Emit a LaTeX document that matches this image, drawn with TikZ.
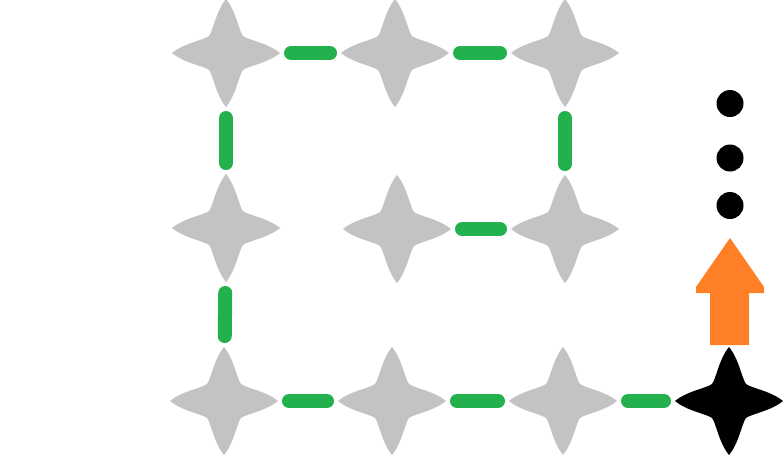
\documentclass[tikz,border=0pt]{standalone}
\usetikzlibrary{calc}
\definecolor{starGrey}{RGB}{195,195,195}
\definecolor{linkGreen}{RGB}{34,177,76}
\definecolor{arrowOrange}{RGB}{255,127,39}
\tikzset{
  sparkle/.pic={
    \fill[pic actions] (54,0) .. controls (42,10) and (22,13) .. (17,17)
      .. controls (13,22) and (10,42) .. (0,54)
      .. controls (-10,42) and (-13,22) .. (-17,17)
      .. controls (-22,13) and (-42,10) .. (-54,0)
      .. controls (-42,-10) and (-22,-13) .. (-17,-17)
      .. controls (-13,-22) and (-10,-42) .. (0,-54)
      .. controls (10,-42) and (13,-22) .. (17,-17)
      .. controls (22,-13) and (42,-10) .. (54,0) -- cycle;
  },
  hub/.style={circle, minimum size=112pt, inner sep=0pt, outer sep=9pt},
  link/.style={draw=linkGreen, line width=14pt, line cap=round},
  blackdot/.style={circle, fill=black, minimum size=27pt, inner sep=0pt}
}
\begin{document}
\begin{tikzpicture}[x=1pt,y=-1pt]
\useasboundingbox (0,0) rectangle (784,456);
% star hubs
\node[hub] (a1) at (226,53) {};
\node[hub] (a2) at (395,53) {};
\node[hub] (a3) at (565,53) {};
\node[hub] (b1) at (226,228) {};
\node[hub] (b2) at (397,229) {};
\node[hub] (b3) at (565,229) {};
\node[hub] (c1) at (224,401) {};
\node[hub] (c2) at (392,401) {};
\node[hub] (c3) at (563,401) {};
\node[hub] (c4) at (729,401) {};
\foreach \n in {a1,a2,a3,b1,b2,b3,c1,c2,c3}
  \pic[fill=starGrey] at (\n) {sparkle};
\pic[fill=black] at (c4) {sparkle};
% green links
\draw[link] (a1) -- (a2);
\draw[link] (a2) -- (a3);
\draw[link] (b2) -- (b3);
\draw[link] (c1) -- (c2);
\draw[link] (c2) -- (c3);
\draw[link] (c3) -- (c4);
\draw[link] (a1) -- (b1);
\draw[link] (a3) -- (b3);
\draw[link] (b1) -- (c1);
% orange arrow
\fill[arrowOrange] (730,238) -- (764,287) -- (764,293) -- (749,293) -- (749,345)
  -- (710,345) -- (710,293) -- (696,293) -- (696,287) -- cycle;
% dots
\node[blackdot] (d1) at (730,103.5) {};
\node[blackdot] (d2) at (730,158) {};
\node[blackdot] (d3) at (730,205.5) {};
\end{tikzpicture}
\end{document}
